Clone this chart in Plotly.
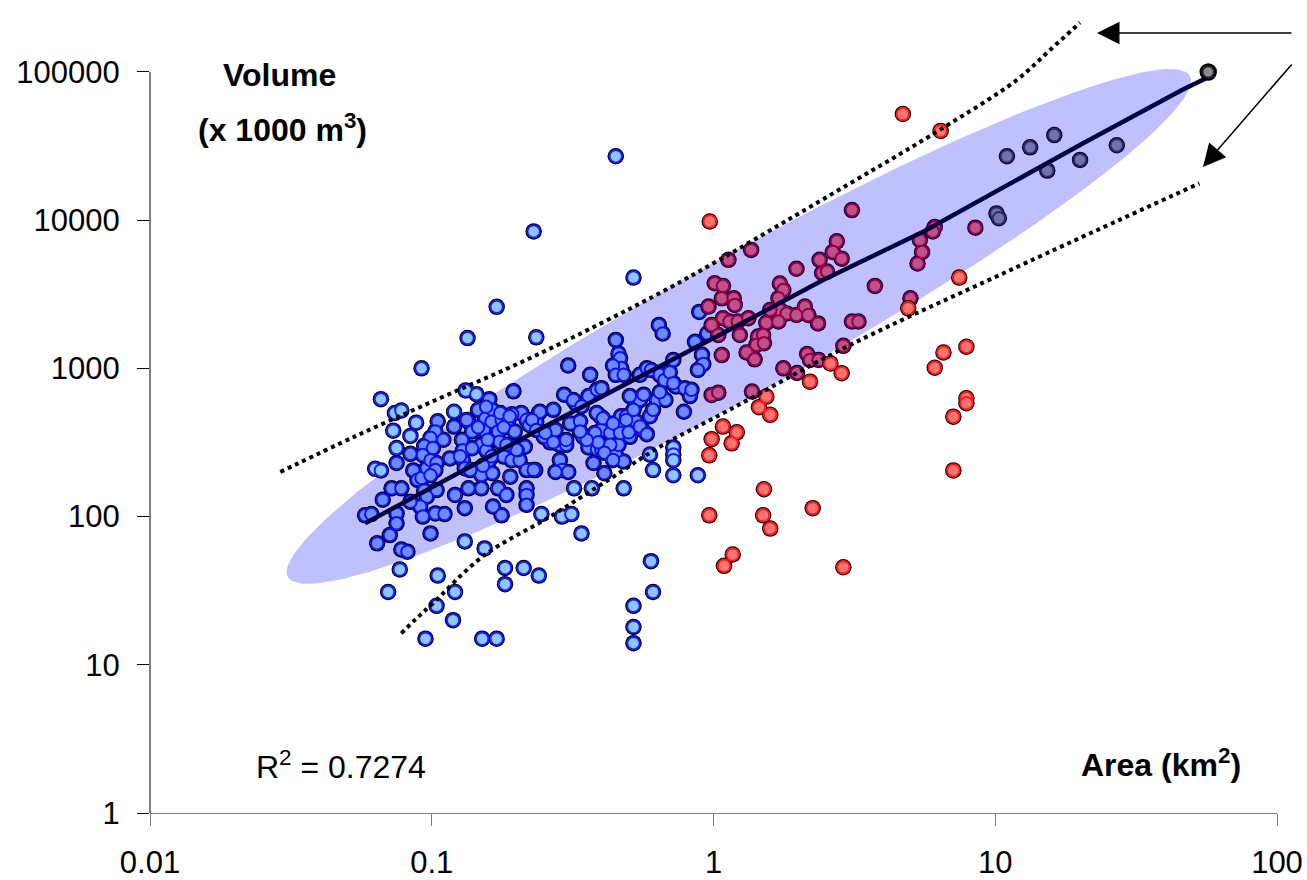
import numpy as np
import plotly.graph_objects as go

# ---------------- data: (area km2, volume 1000 m3) ----------------
light_blue = [
    (0.45, 27000), (0.23, 8400), (0.52, 4100), (0.17, 2600), (0.134, 1600), (0.235, 1620),
    (0.092, 1000), (0.066, 620), (0.074, 500), (0.078, 520), (0.088, 430), (0.073, 380),
    (0.084, 350), (0.12, 510), (0.132, 710), (0.144, 670), (0.075, 290), (0.063, 210),
    (0.066, 205), (0.131, 68), (0.154, 61), (0.245, 104), (0.077, 44), (0.07, 31),
    (0.105, 40), (0.121, 31), (0.104, 25), (0.119, 20), (0.095, 15), (0.151, 15),
    (0.17, 15), (0.182, 45), (0.182, 35), (0.212, 45), (0.24, 40), (0.29, 100),
    (0.313, 104), (0.34, 77), (0.6, 50), (0.61, 31), (0.52, 25), (0.52, 18), (0.52, 14),
    (0.72, 293), (0.72, 262), (0.72, 240), (0.595, 262), (0.61, 206), (0.72, 190),
    (0.88, 190), (0.32, 155), (0.37, 155), (0.48, 155),
]
mid_blue = [
    (0.195, 700), (0.16, 620), (0.105, 440), (0.103, 375), (0.099, 340), (0.094, 300),
    (0.093, 260), (0.11, 330), (0.101, 290), (0.084, 265), (0.086, 205), (0.089, 177),
    (0.092, 182), (0.096, 212), (0.099, 240), (0.104, 230), (0.103, 206), (0.099, 190),
    (0.094, 150), (0.104, 151), (0.096, 136), (0.091, 117), (0.093, 100), (0.103, 105),
    (0.111, 104), (0.099, 77), (0.072, 155), (0.078, 155), (0.067, 130), (0.075, 105),
    (0.075, 90), (0.071, 75), (0.064, 66), (0.078, 60), (0.082, 58), (0.058, 102),
    (0.061, 104), (0.084, 126), (0.121, 140), (0.131, 114), (0.135, 155), (0.15, 155),
    (0.165, 117), (0.177, 102), (0.172, 155), (0.184, 140), (0.217, 155), (0.217, 140),
    (0.217, 120), (0.116, 247), (0.128, 330), (0.129, 280), (0.129, 240), (0.131, 212),
    (0.135, 437), (0.139, 375), (0.146, 525), (0.155, 460), (0.153, 385), (0.15, 305),
    (0.15, 191), (0.156, 280), (0.16, 240), (0.164, 196), (0.164, 525), (0.163, 437),
    (0.177, 450), (0.172, 375), (0.174, 320), (0.18, 254), (0.19, 186), (0.192, 296),
    (0.197, 375), (0.192, 240), (0.205, 240), (0.208, 500), (0.217, 450), (0.222, 415),
    (0.214, 296), (0.217, 206), (0.233, 206), (0.235, 437), (0.24, 500), (0.202, 280),
    (0.187, 450), (0.158, 330), (0.139, 289), (0.075, 230),
    (0.89, 2400), (0.64, 1960), (0.66, 1720), (0.95, 1720), (0.86, 1510), (0.91, 1235),
    (0.92, 1070), (0.88, 975), (0.72, 1140), (0.305, 1045), (0.45, 1555), (0.46, 1260),
    (0.466, 1170), (0.47, 1005), (0.44, 1045), (0.45, 905), (0.48, 905), (0.365, 905),
    (0.548, 905), (0.58, 1000), (0.6, 975), (0.645, 905), (0.67, 835), (0.7, 940),
    (0.735, 755), (0.79, 735), (0.825, 650), (0.835, 716), (0.785, 510), (0.295, 665),
    (0.325, 580), (0.36, 650), (0.386, 716), (0.4, 735), (0.27, 525), (0.242, 510),
    (0.227, 449), (0.396, 475), (0.4, 384), (0.38, 367), (0.43, 367), (0.46, 405),
    (0.47, 475), (0.49, 475), (0.53, 580), (0.548, 612), (0.505, 650), (0.565, 665),
    (0.595, 475), (0.56, 384), (0.53, 440), (0.263, 317), (0.285, 305), (0.3, 305),
    (0.345, 345), (0.36, 293), (0.386, 285), (0.4, 282), (0.45, 262), (0.46, 305),
    (0.48, 235), (0.375, 230), (0.285, 241), (0.29, 206), (0.275, 200), (0.305, 200),
    (0.23, 206), (0.25, 345), (0.235, 384), (0.31, 425), (0.336, 440), (0.43, 305),
    (0.505, 345), (0.466, 367), (0.63, 612), (0.41, 196),
    (0.146, 400), (0.18, 400), (0.193, 490), (0.318, 612), (0.34, 555),
    (0.27, 317), (0.39, 317), (0.41, 270), (0.44, 241), (0.5, 370), (0.548, 405),
    (0.58, 360), (0.61, 525), (0.675, 612), (0.72, 795), (0.645, 690), (0.52, 525),
    (0.49, 449),
    (0.385, 500), (0.405, 460), (0.44, 425), (0.355, 329), (0.336, 375), (0.30, 329),
    (0.275, 384), (0.253, 367), (0.2, 282), (0.184, 305), (0.163, 255), (0.152, 220),
    (0.137, 206), (0.126, 255), (0.12, 405), (0.133, 449), (0.156, 550), (0.175, 500),
    (0.189, 475),
]
crimson = [
    (3.1, 11700), (1.36, 6300), (1.13, 5400), (2.74, 7200), (2.65, 6100), (2.85, 5500),
    (2.38, 5400), (1.97, 4700), (2.43, 4400), (2.53, 4500), (1.01, 3750), (1.08, 3600),
    (1.07, 2970), (1.18, 2970), (1.19, 2680), (0.96, 2610), (1.72, 3740), (1.77, 3380),
    (1.70, 2970), (1.72, 2480), (1.59, 2480), (1.54, 2030), (1.82, 2350), (1.97, 2290),
    (2.11, 2610), (2.17, 2290), (2.35, 2010), (1.70, 2070), (1.08, 2180), (1.14, 2070),
    (1.22, 2070), (1.33, 2180), (0.985, 1960), (1.04, 1680), (1.24, 1680), (1.44, 1640),
    (1.50, 1680), (1.42, 1440), (1.51, 1480), (1.07, 1230), (1.31, 1280), (1.40, 1150),
    (1.77, 1000), (1.98, 930), (2.15, 1250), (2.2, 1140), (2.36, 1140), (1.37, 697),
    (0.985, 662), (1.04, 686), (2.89, 1420), (3.1, 2070), (3.27, 2070), (3.74, 3600),
    (5.0, 2970), (5.4, 7350), (5.5, 6100), (5.3, 5100), (6.1, 9000), (6.0, 8400),
    (8.5, 8900),
]
red = [
    (0.97, 9800), (4.7, 52000), (6.4, 40000), (7.45, 4100), (4.91, 2540), (2.6, 1080),
    (2.85, 928), (2.2, 813), (1.54, 645), (1.45, 547), (1.59, 486), (6.55, 1280),
    (6.1, 1010), (7.9, 1400), (7.9, 628), (7.9, 582), (7.1, 472), (7.1, 205),
    (1.08, 405), (1.21, 370), (1.16, 312), (0.985, 333), (0.966, 259), (1.51, 153),
    (0.966, 102), (1.50, 102), (1.59, 83), (2.25, 114), (1.17, 55.5), (1.09, 46.5),
    (2.89, 45.5),
]
purple = [
    (11, 27000), (13.3, 31000), (16.2, 37500), (15.3, 21600), (20, 25500), (27, 32000),
    (10.1, 11100), (10.3, 10300),
]
grey = [(57, 100000)]

fit_line = [(0.058, 90), (0.245, 394), (1.14, 1820), (2.45, 3950), (5.55, 8360),
            (11.3, 17700), (20.5, 33000), (46, 75600), (56, 90700)]
upper_band = [(0.029, 200), (0.053, 345), (0.107, 630), (0.21, 1110), (0.4, 2020),
              (0.66, 3300), (1.05, 5400), (1.79, 9750), (3.05, 17700), (4.6, 28000),
              (6.4, 41000), (11.9, 88000), (15.6, 140000), (20, 215000)]
lower_band = [(0.078, 16.3), (0.087, 20), (0.101, 26), (0.152, 54), (0.263, 100),
              (0.43, 180), (0.645, 296), (1.14, 525), (2.97, 1400), (11.3, 4600),
              (53, 17700)]

x_ticks = [0.01, 0.1, 1, 10, 100]
x_tick_text = ["0.01", "0.1", "1", "10", "100"]
y_ticks = [1, 10, 100, 1000, 10000, 100000]
y_tick_text = ["1", "10", "100", "1000", "10000", "100000"]
r2_text = "R<sup>2</sup> = 0.7274"

# ---------------- helpers ----------------
def xs(pts):
    return [p[0] for p in pts]

def ys(pts):
    return [p[1] for p in pts]

FONT = "Liberation Sans, Arial, sans-serif"
Y_TOP = 5.418  # log10 of top of plotting area

fig = go.Figure()

# shaded ellipse (in log-log space)
ell_center = (1.23, 1920)
ell_major = (1.6007, 1.6903)   # half-axis, decades
ell_minor = (0.1171, -0.4008)
t = np.linspace(0, 2 * np.pi, 240)
lx = np.log10(ell_center[0]) + ell_major[0] * np.cos(t) + ell_minor[0] * np.sin(t)
ly = np.log10(ell_center[1]) + ell_major[1] * np.cos(t) + ell_minor[1] * np.sin(t)
fig.add_trace(go.Scatter(x=10 ** lx, y=10 ** ly, mode="lines", fill="toself",
                         fillcolor="#c0c0ff", line=dict(width=0), hoverinfo="skip"))

UNDER = 16.5
TOP = 12.5


def add_points(pts, fill, ring, under, under_size=UNDER, size=TOP, ring_w=2):
    fig.add_trace(go.Scatter(x=xs(pts), y=ys(pts), mode="markers",
                             marker=dict(size=under_size, color=under, line=dict(width=0))))
    fig.add_trace(go.Scatter(x=xs(pts), y=ys(pts), mode="markers",
                             marker=dict(size=size, color=fill, line=dict(width=ring_w, color=ring))))


# blue points: shared black underlay
fig.add_trace(go.Scatter(x=xs(mid_blue) + xs(light_blue), y=ys(mid_blue) + ys(light_blue),
                         mode="markers", marker=dict(size=UNDER, color="black", line=dict(width=0))))
fig.add_trace(go.Scatter(x=xs(mid_blue), y=ys(mid_blue), mode="markers",
                         marker=dict(size=TOP, color="#6a8cff", line=dict(width=2, color="#1010ee"))))
fig.add_trace(go.Scatter(x=xs(light_blue), y=ys(light_blue), mode="markers",
                         marker=dict(size=TOP, color="#8cc8ff", line=dict(width=2, color="#1a1aff"))))
add_points(crimson, "#c0508a", "#900045", "#000040")
add_points(red, "#ff7373", "#ff1a1a", "black")
add_points(purple, "#7272aa", "#2a2a6a", "#000033")

# prediction bands and regression line
for band in (upper_band, lower_band):
    fig.add_trace(go.Scatter(x=xs(band), y=ys(band), mode="lines",
                             line=dict(color="black", width=4, dash="dot", shape="spline")))
fig.add_trace(go.Scatter(x=xs(fit_line), y=ys(fit_line), mode="lines",
                         line=dict(color="#000040", width=4.5)))
add_points(grey, "#8a8a8a", "#222222", "black", under_size=17.5, size=11.5, ring_w=2)

fig.update_layout(
    width=1307, height=880,
    margin=dict(l=150, r=30, t=10, b=67),
    paper_bgcolor="white", plot_bgcolor="white",
    showlegend=False, hovermode=False,
    font=dict(family=FONT, size=31, color="black"),
)
fig.update_xaxes(type="log", range=[-2, 2], tickvals=x_ticks, ticktext=x_tick_text,
                 showgrid=False, zeroline=False, showline=True, linecolor="#808080",
                 linewidth=1, ticks="outside", ticklen=12, tickcolor="#808080",
                 tickfont=dict(size=31, family=FONT), ticklabelstandoff=10,
                 ticklabeloverflow="allow", automargin=False)
fig.update_yaxes(type="log", range=[0, Y_TOP], tickvals=y_ticks, ticktext=y_tick_text,
                 showgrid=False, zeroline=False, showline=False, ticks="outside",
                 ticklen=12, tickcolor="black", tickfont=dict(size=31, family=FONT),
                 ticklabelstandoff=11, automargin=False)

# y axis line only up to 100000
fig.add_shape(type="line", xref="paper", yref="paper", x0=0, x1=0, y0=0, y1=5 / Y_TOP,
              line=dict(color="black", width=1))

annots = [
    dict(text="<b>Volume</b>", x=0.1153, y=0.919),
    dict(text="<b>(x 1000 m<sup>3</sup>)</b>", x=0.118, y=0.853),
    dict(text=r2_text, x=0.1695, y=0.0598),
    dict(text="<b>Area (km<sup>2</sup>)</b>", x=0.897, y=0.0623),
]
for a in annots:
    fig.add_annotation(xref="paper", yref="paper", showarrow=False,
                       xanchor="center", yanchor="middle",
                       font=dict(size=32, family=FONT, color="black"), **a)

# arrows pointing at the prediction bands
fig.add_annotation(xref="paper", yref="paper", x=0.8403, y=0.9714, text="",
                   showarrow=True, ax=196, ay=0, arrowhead=2, arrowsize=3,
                   arrowwidth=1.5, arrowcolor="black", standoff=0)
fig.add_annotation(xref="paper", yref="paper", x=0.9343, y=0.8045, text="",
                   showarrow=True, ax=90, ay=-104, arrowhead=2, arrowsize=3,
                   arrowwidth=1.5, arrowcolor="black", standoff=0)

# remove the default page margin so the figure fills the window exactly
fig.write_html("out.html", config={"displayModeBar": False},
               post_script="document.body.style.margin='0';")
